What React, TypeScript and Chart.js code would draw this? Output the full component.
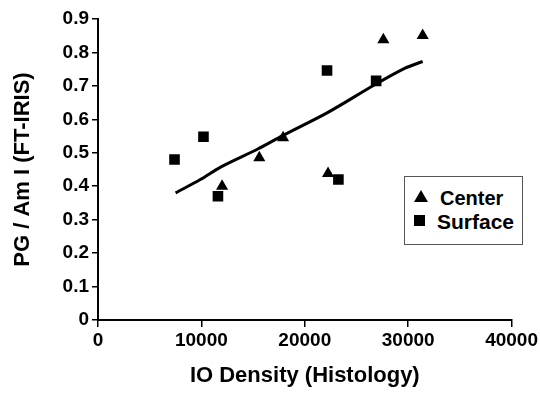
import React, { useEffect, useRef } from "react";
import { Chart, registerables } from "chart.js";
Chart.register(...registerables);

const centerX = [12000, 15600, 17900, 22250, 27600, 31400];
const centerY = [0.4, 0.485, 0.545, 0.438, 0.838, 0.851];
const surfaceX = [7400, 10200, 11600, 22150, 23250, 26900];
const surfaceY = [0.48, 0.548, 0.37, 0.746, 0.42, 0.715];
const trendX = [7500, 9900, 11900, 15500, 17900, 22200, 26800, 29700, 31400];
const trendY = [0.38, 0.42, 0.458, 0.512, 0.552, 0.62, 0.704, 0.753, 0.773];
const xTitle = "IO Density (Histology)";
const yTitle = "PG / Am I (FT-IRIS)";
const legendLabels = ["Center", "Surface"];

const FONT = "'Liberation Sans', Arial, sans-serif";

export default function App() {
  const ref = useRef<HTMLCanvasElement>(null);
  useEffect(() => {
    document.body.style.margin = "0";
    const ctx = ref.current!.getContext("2d")!;
    const pad = { left: 0, top: 19, right: 3, bottom: 0 };
    const chart = new Chart(ctx, {
      type: "scatter",
      data: {
        datasets: [
          {
            label: legendLabels[0],
            data: centerX.map((x, i) => ({ x, y: centerY[i] })),
            pointStyle: "triangle",
            pointRadius: 7,
            backgroundColor: "#000",
            borderColor: "#000",
            borderWidth: 0,
          },
          {
            label: legendLabels[1],
            data: surfaceX.map((x, i) => ({ x, y: surfaceY[i] })),
            pointStyle: "rect",
            pointRadius: 7.5,
            backgroundColor: "#000",
            borderColor: "#000",
            borderWidth: 0,
          },
          {
            type: "line",
            label: "trend",
            data: trendX.map((x, i) => ({ x, y: trendY[i] })),
            borderColor: "#000",
            borderWidth: 3,
            pointRadius: 0,
            tension: 0.3,
            fill: false,
          } as any,
        ],
      },
      options: {
        responsive: false,
        animation: false,
        layout: { padding: pad },
        plugins: { legend: { display: false }, tooltip: { enabled: false } },
        scales: {
          x: {
            type: "linear",
            min: 0,
            max: 40000,
            ticks: {
              stepSize: 10000,
              color: "#000",
              font: { family: FONT, size: 19, weight: "bold" },
              padding: 2,
              maxRotation: 0,
              callback: (v: any) => String(v),
            },
            grid: { display: true, drawOnChartArea: false, drawTicks: true, tickLength: 7, color: "#000", lineWidth: 1.5 },
            border: { display: true, color: "#000", width: 2 },
            title: {
              display: true,
              text: xTitle,
              color: "#000",
              font: { family: FONT, size: 22, weight: "bold" },
              padding: { top: 2, bottom: 4 },
            },
            afterFit: (s: any) => {
              s.height = 393 - 320 - pad.bottom;
            },
          },
          y: {
            type: "linear",
            min: 0,
            max: 0.9,
            ticks: {
              stepSize: 0.1,
              color: "#000",
              font: { family: FONT, size: 19, weight: "bold" },
              padding: 3,
              callback: (v: any) => String(Number(Number(v).toFixed(1))),
            },
            grid: { display: true, drawOnChartArea: false, drawTicks: true, tickLength: 6, color: "#000", lineWidth: 1.5 },
            border: { display: true, color: "#000", width: 2 },
            title: {
              display: true,
              text: yTitle,
              color: "#000",
              font: { family: FONT, size: 22, weight: "bold" },
              padding: { top: 10, bottom: 0 },
            },
            afterFit: (s: any) => {
              s.width = 98 - pad.left;
            },
          },
        },
      },
    });
    return () => chart.destroy();
  }, []);

  const textStyle: React.CSSProperties = {
    fontFamily: FONT,
    fontWeight: "bold",
    fontSize: 20,
    color: "#000",
    position: "absolute",
    lineHeight: "20px",
  };

  return (
    <div style={{ position: "relative", width: 540, height: 393, background: "#fff" }}>
      <canvas ref={ref} width={540} height={393} style={{ display: "block" }} />
      <div
        style={{
          position: "absolute",
          left: 404,
          top: 176,
          width: 117,
          height: 67,
          border: "1px solid #555",
          background: "#fff",
        }}
      >
        <svg style={{ position: "absolute", left: 9, top: 13 }} width="14" height="12">
          <polygon points="7,0 14,12 0,12" fill="#000" />
        </svg>
        <div style={{ ...textStyle, left: 35, top: 11 }}>{legendLabels[0]}</div>
        <svg style={{ position: "absolute", left: 9, top: 38 }} width="11" height="11">
          <rect x="0" y="0" width="11" height="11" fill="#000" />
        </svg>
        <div style={{ ...textStyle, left: 32, top: 35, fontSize: 21 }}>{legendLabels[1]}</div>
      </div>
    </div>
  );
}
